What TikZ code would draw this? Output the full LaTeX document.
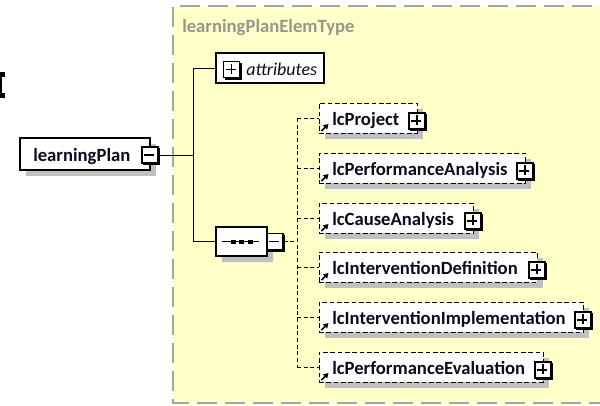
\documentclass[tikz,border=0pt]{standalone}
\usepackage{fontspec}
\setmainfont{Carlito}
\usetikzlibrary{arrows.meta,shapes.misc,shadows,fit}
\definecolor{bgyellow}{RGB}{255,255,200}
\definecolor{shadowgrey}{RGB}{192,192,192}
\definecolor{framegrey}{RGB}{165,165,160}
\definecolor{titlegrey}{RGB}{150,150,140}
\definecolor{textblack}{RGB}{10,10,30}
\tikzset{
  conn/.style={line width=0.75pt, black},
  dconn/.style={conn, dash pattern=on 3pt off 2pt},
  shadowed/.style={drop shadow={shadow xshift=4.5pt, shadow yshift=-4.5pt, fill=shadowgrey, opacity=1}},
  rootbox/.style={draw, line width=0.8pt, fill=white, inner sep=0pt, shadowed},
  attrbox/.style={draw, line width=1.1pt, fill=white, inner sep=0pt},
  childbox/.style={draw, line width=0.75pt, dash pattern=on 3.5pt off 2pt, fill=white, inner sep=0pt, shadowed},
  seqbox/.style={draw, line width=0.8pt, fill=white, chamfered rectangle, chamfered rectangle xsep=5pt, minimum width=38.25pt, minimum height=21.75pt, inner sep=0pt, shadowed},
  iconbox/.style={draw, line width=0.8pt, fill=white, minimum size=12pt, inner sep=0pt},
  lbl/.style={font=\fontsize{14}{16}\selectfont\bfseries, text=textblack, inner sep=0pt},
  attrlbl/.style={font=\fontsize{13.5}{16}\selectfont\itshape, text=textblack, inner sep=0pt},
  titlelbl/.style={font=\fontsize{14}{16}\selectfont\bfseries, text=titlegrey, inner sep=0pt},
  refarrow/.style={line width=1.3pt, -{Triangle[length=3.6pt,width=4.2pt]}},
}
\newcommand\xsicon[3]{%
  \node[iconbox] (#1) at (#2,#3) {};
  \draw[line width=1pt] ([xshift=0.8pt,yshift=-1.2pt]#1.north east) -- ([xshift=0.8pt,yshift=-0.8pt]#1.south east) -- ([xshift=1.2pt,yshift=-0.8pt]#1.south west);
  \draw[line width=0.8pt] (#1.west) ++(3,0) -- ++(10,0);
}
\newcommand\xsplus[3]{%
  \xsicon{#1}{#2}{#3}
  \draw[line width=0.8pt] (#1.north) ++(0,3) -- ++(0,10);
}
\newcommand\xschild[4]{%
  \node[childbox, fit={(319,#2-15) (#3,#2+15)}] (#1) {};
  \node[lbl, anchor=base west] (#1t) at (332,#2+7) {#4};
  \xsplus{#1p}{#3}{#2+3}
  \draw[refarrow] (#1.south west) ++(3,-2.5) -- ++(7,-7);
}
\begin{document}
\begin{tikzpicture}[x=0.75pt,y=-0.75pt]
\useasboundingbox (0,0) rectangle (600,405);
\clip (0,0) rectangle (600,405);
% clipped glyph at left edge
\fill[black] (0,72) rectangle (5,77);
\fill[black] (0,93) rectangle (5,98);
\fill[black] (0,72) rectangle (1.5,98);
% complex type frame
\fill[bgyellow] (173,6) rectangle (620,403);
\draw[framegrey, line width=1.3pt, dash pattern=on 15pt off 6pt] (620,6) -- (173,6) -- (173,403) -- (620,403);
\node[titlelbl, anchor=base west] (title) at (182,32) {learningPlanElemType};
% root element
\node[rootbox, fit={(20,138) (150,170)}] (lp) {};
\node[lbl, anchor=base west] (lpt) at (33,161) {learningPlan};
\xsicon{lpm}{150}{155}
% attributes
\node[attrbox, fit={(216,53) (324,83)}] (attr) {};
\xsplus{attrp}{231.5}{69.5}
\node[attrlbl, anchor=base west] (attrt) at (246,75) {attributes};
% sequence compositor
\node[seqbox] (seq) at (241.5,241.5) {};
\draw[line width=0.8pt] (seq.west) ++(7,0) -- ++(37,0);
\foreach \dx in {233,241.5,250} {\fill[black] (\dx-2.5,239.5) rectangle (\dx+2.5,243.5);}
\xsicon{seqm}{275}{241.5}
% solid connectors
\coordinate (j1) at (193,155);
\draw[conn] (lpm.east) -- (j1);
\draw[conn] (attr.west) -| (j1);
\draw[conn] (seq.west) -| (j1);
% children
\xschild{c1}{118}{417}{lcProject}
\xschild{c2}{168}{525}{lcPerformanceAnalysis}
\xschild{c3}{218}{473}{lcCauseAnalysis}
\xschild{c4}{267}{537}{lcInterventionDefinition}
\xschild{c5}{317}{583}{lcInterventionImplementation}
\xschild{c6}{367}{543}{lcPerformanceEvaluation}
% dashed connectors
\coordinate (j2) at (297,241.5);
\draw[dconn] (seqm.east) -- (j2);
\draw[dconn] (c1.west -| j2) -- (c6.west -| j2);
\foreach \c in {c1,c2,c3,c4,c5,c6} {\draw[dconn] (\c.west -| j2) -- (\c.west);}
\end{tikzpicture}
\end{document}
